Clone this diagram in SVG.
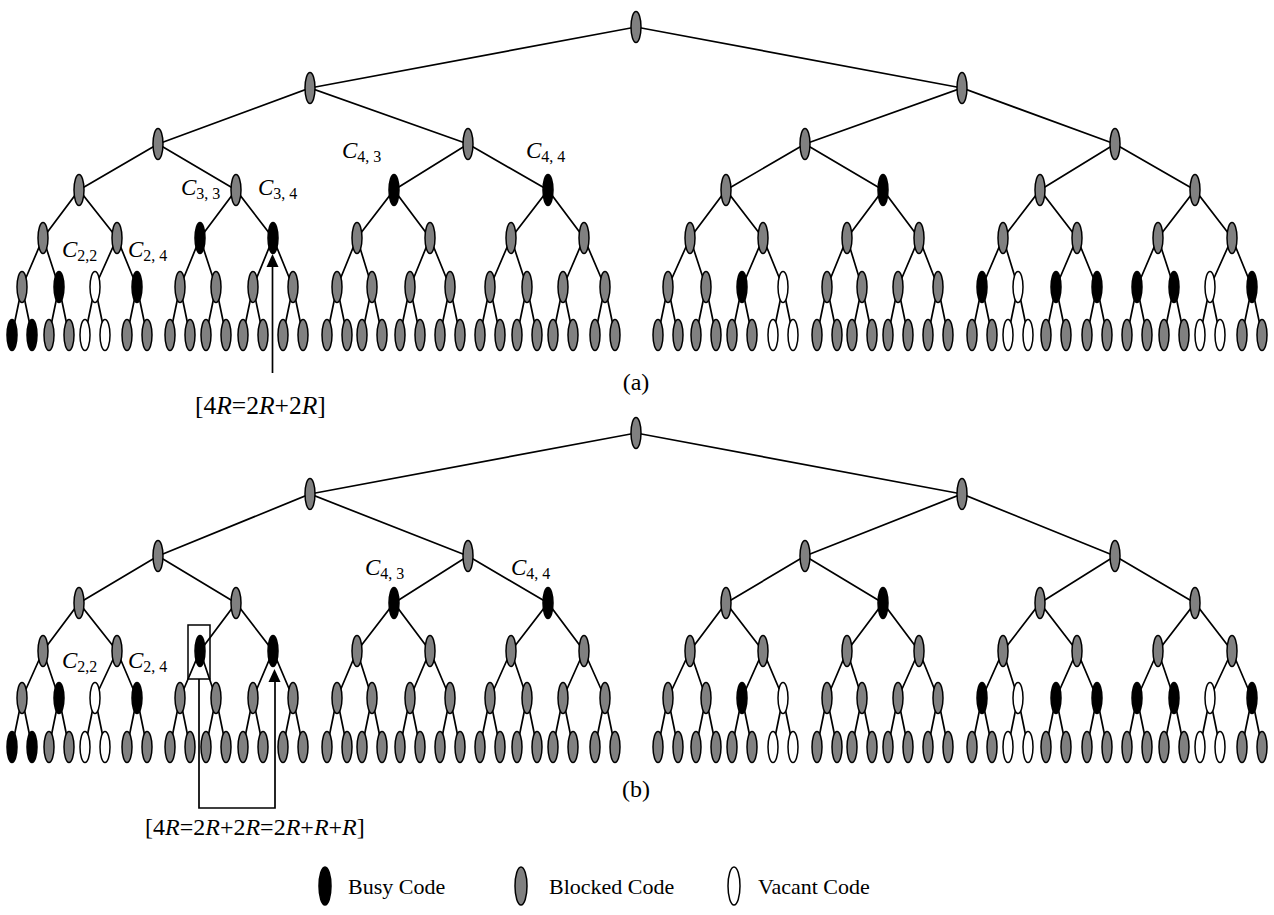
<svg xmlns="http://www.w3.org/2000/svg" xmlns:xlink="http://www.w3.org/1999/xlink" width="1274" height="915" viewBox="0 0 1274 915">
<style>
.e{fill:none;stroke:#000;stroke-width:1.7}
.nd{stroke:#000;stroke-width:1.5}
.t{font-family:"Liberation Serif","Times New Roman",serif;fill:#000}
.i{font-style:italic}
.lbl{font-size:23px}
.sub{font-size:16px}
.eq{font-size:24px}
.eqa{font-size:25.5px}
.cap{font-size:24px}
.leg{font-size:22px}
</style>
<defs>
<ellipse id="G" class="nd" cx="0" cy="0" rx="5" ry="15.5" fill="#808080"/>
<ellipse id="B" class="nd" cx="0" cy="0" rx="5" ry="15.5" fill="#000"/>
<ellipse id="W" class="nd" cx="0" cy="0" rx="5" ry="15.5" fill="#fff"/>
</defs>
<rect width="1274" height="915" fill="#fff"/>

<g id="connectors">
<path id="edges-a" class="e" d="M310 88L636 27L962 88M158 144L310 88L468 144M805 144L962 88L1115 144M79 190L158 144L236 190M394 190L468 144L548 190M726 190L805 144L883 190M1040 190L1115 144L1195 190M43 238L79 190L117 238M200 238L236 190L273 238M357 238L394 190L430 238M511 238L548 190L584 238M690 238L726 190L763 238M847 238L883 190L919 238M1003 238L1040 190L1077 238M1158 238L1195 190L1232 238M22 287L43 238L59 287M95 287L117 238L137 287M180 287L200 238L216 287M253 287L273 238L293 287M337 287L357 238L372 287M410 287L430 238L450 287M490 287L511 238L527 287M563 287L584 238L605 287M668 287L690 238L706 287M742 287L763 238L783 287M827 287L847 238L862 287M898 287L919 238L938 287M982 287L1003 238L1018 287M1056 287L1077 238L1097 287M1137 287L1158 238L1174 287M1210 287L1232 238L1252 287M12 335L22 287L32 335M49 335L59 287L69 335M85 335L95 287L105 335M127 335L137 287L147 335M170 335L180 287L190 335M206 335L216 287L226 335M243 335L253 287L263 335M283 335L293 287L303 335M327 335L337 287L347 335M362 335L372 287L382 335M400 335L410 287L420 335M440 335L450 287L460 335M480 335L490 287L500 335M517 335L527 287L537 335M553 335L563 287L573 335M595 335L605 287L615 335M658 335L668 287L678 335M696 335L706 287L716 335M732 335L742 287L752 335M773 335L783 287L793 335M817 335L827 287L837 335M852 335L862 287L872 335M888 335L898 287L908 335M928 335L938 287L948 335M972 335L982 287L992 335M1008 335L1018 287L1028 335M1046 335L1056 287L1066 335M1087 335L1097 287L1107 335M1127 335L1137 287L1147 335M1164 335L1174 287L1184 335M1200 335L1210 287L1220 335M1242 335L1252 287L1262 335"/>
<path id="edges-b" class="e" d="M310 494L636 433L962 494M158 556L310 494L468 556M805 556L962 494L1115 556M79 603L158 556L236 603M394 603L468 556L548 603M726 603L805 556L883 603M1040 603L1115 556L1195 603M43 651L79 603L117 651M200 651L236 603L273 651M357 651L394 603L430 651M511 651L548 603L584 651M690 651L726 603L763 651M847 651L883 603L919 651M1003 651L1040 603L1077 651M1158 651L1195 603L1232 651M22 698L43 651L59 698M95 698L117 651L137 698M180 698L200 651L216 698M253 698L273 651L293 698M337 698L357 651L372 698M410 698L430 651L450 698M490 698L511 651L527 698M563 698L584 651L605 698M668 698L690 651L706 698M742 698L763 651L783 698M827 698L847 651L862 698M898 698L919 651L938 698M982 698L1003 651L1018 698M1056 698L1077 651L1097 698M1137 698L1158 651L1174 698M1210 698L1232 651L1252 698M12 747L22 698L32 747M49 747L59 698L69 747M85 747L95 698L105 747M127 747L137 698L147 747M170 747L180 698L190 747M206 747L216 698L226 747M243 747L253 698L263 747M283 747L293 698L303 747M327 747L337 698L347 747M362 747L372 698L382 747M400 747L410 698L420 747M440 747L450 698L460 747M480 747L490 698L500 747M517 747L527 698L537 747M553 747L563 698L573 747M595 747L605 698L615 747M658 747L668 698L678 747M696 747L706 698L716 747M732 747L742 698L752 747M773 747L783 698L793 747M817 747L827 698L837 747M852 747L862 698L872 747M888 747L898 698L908 747M928 747L938 698L948 747M972 747L982 698L992 747M1008 747L1018 698L1028 747M1046 747L1056 698L1066 747M1087 747L1097 698L1107 747M1127 747L1137 698L1147 747M1164 747L1174 698L1184 747M1200 747L1210 698L1220 747M1242 747L1252 698L1262 747"/>
</g>

<g id="tree-a">
<g id="a0"><use href="#G" x="636" y="27"/></g>
<g id="a1"><use href="#G" x="310" y="88"/></g>
<g id="a2"><use href="#G" x="962" y="88"/></g>
<g id="a3"><use href="#G" x="158" y="144"/></g>
<g id="a4"><use href="#G" x="468" y="144"/></g>
<g id="a5"><use href="#G" x="805" y="144"/></g>
<g id="a6"><use href="#G" x="1115" y="144"/></g>
<g id="a7"><use href="#G" x="79" y="190"/></g>
<g id="a8"><use href="#G" x="236" y="190"/></g>
<g id="a9"><use href="#B" x="394" y="190"/></g>
<g id="a10"><use href="#B" x="548" y="190"/></g>
<g id="a11"><use href="#G" x="726" y="190"/></g>
<g id="a12"><use href="#B" x="883" y="190"/></g>
<g id="a13"><use href="#G" x="1040" y="190"/></g>
<g id="a14"><use href="#G" x="1195" y="190"/></g>
<g id="a15"><use href="#G" x="43" y="238"/></g>
<g id="a16"><use href="#G" x="117" y="238"/></g>
<g id="a17"><use href="#B" x="200" y="238"/></g>
<g id="a18"><use href="#B" x="273" y="238"/></g>
<g id="a19"><use href="#G" x="357" y="238"/></g>
<g id="a20"><use href="#G" x="430" y="238"/></g>
<g id="a21"><use href="#G" x="511" y="238"/></g>
<g id="a22"><use href="#G" x="584" y="238"/></g>
<g id="a23"><use href="#G" x="690" y="238"/></g>
<g id="a24"><use href="#G" x="763" y="238"/></g>
<g id="a25"><use href="#G" x="847" y="238"/></g>
<g id="a26"><use href="#G" x="919" y="238"/></g>
<g id="a27"><use href="#G" x="1003" y="238"/></g>
<g id="a28"><use href="#G" x="1077" y="238"/></g>
<g id="a29"><use href="#G" x="1158" y="238"/></g>
<g id="a30"><use href="#G" x="1232" y="238"/></g>
<g id="a31"><use href="#G" x="22" y="287"/></g>
<g id="a32"><use href="#B" x="59" y="287"/></g>
<g id="a33"><use href="#W" x="95" y="287"/></g>
<g id="a34"><use href="#B" x="137" y="287"/></g>
<g id="a35"><use href="#G" x="180" y="287"/></g>
<g id="a36"><use href="#G" x="216" y="287"/></g>
<g id="a37"><use href="#G" x="253" y="287"/></g>
<g id="a38"><use href="#G" x="293" y="287"/></g>
<g id="a39"><use href="#G" x="337" y="287"/></g>
<g id="a40"><use href="#G" x="372" y="287"/></g>
<g id="a41"><use href="#G" x="410" y="287"/></g>
<g id="a42"><use href="#G" x="450" y="287"/></g>
<g id="a43"><use href="#G" x="490" y="287"/></g>
<g id="a44"><use href="#G" x="527" y="287"/></g>
<g id="a45"><use href="#G" x="563" y="287"/></g>
<g id="a46"><use href="#G" x="605" y="287"/></g>
<g id="a47"><use href="#G" x="668" y="287"/></g>
<g id="a48"><use href="#G" x="706" y="287"/></g>
<g id="a49"><use href="#B" x="742" y="287"/></g>
<g id="a50"><use href="#W" x="783" y="287"/></g>
<g id="a51"><use href="#G" x="827" y="287"/></g>
<g id="a52"><use href="#G" x="862" y="287"/></g>
<g id="a53"><use href="#G" x="898" y="287"/></g>
<g id="a54"><use href="#G" x="938" y="287"/></g>
<g id="a55"><use href="#B" x="982" y="287"/></g>
<g id="a56"><use href="#W" x="1018" y="287"/></g>
<g id="a57"><use href="#B" x="1056" y="287"/></g>
<g id="a58"><use href="#B" x="1097" y="287"/></g>
<g id="a59"><use href="#B" x="1137" y="287"/></g>
<g id="a60"><use href="#B" x="1174" y="287"/></g>
<g id="a61"><use href="#W" x="1210" y="287"/></g>
<g id="a62"><use href="#B" x="1252" y="287"/></g>
<g id="a63"><use href="#B" x="12" y="335"/></g>
<g id="a64"><use href="#B" x="32" y="335"/></g>
<g id="a65"><use href="#G" x="49" y="335"/></g>
<g id="a66"><use href="#G" x="69" y="335"/></g>
<g id="a67"><use href="#W" x="85" y="335"/></g>
<g id="a68"><use href="#W" x="105" y="335"/></g>
<g id="a69"><use href="#G" x="127" y="335"/></g>
<g id="a70"><use href="#G" x="147" y="335"/></g>
<g id="a71"><use href="#G" x="170" y="335"/></g>
<g id="a72"><use href="#G" x="190" y="335"/></g>
<g id="a73"><use href="#G" x="206" y="335"/></g>
<g id="a74"><use href="#G" x="226" y="335"/></g>
<g id="a75"><use href="#G" x="243" y="335"/></g>
<g id="a76"><use href="#G" x="263" y="335"/></g>
<g id="a77"><use href="#G" x="283" y="335"/></g>
<g id="a78"><use href="#G" x="303" y="335"/></g>
<g id="a79"><use href="#G" x="327" y="335"/></g>
<g id="a80"><use href="#G" x="347" y="335"/></g>
<g id="a81"><use href="#G" x="362" y="335"/></g>
<g id="a82"><use href="#G" x="382" y="335"/></g>
<g id="a83"><use href="#G" x="400" y="335"/></g>
<g id="a84"><use href="#G" x="420" y="335"/></g>
<g id="a85"><use href="#G" x="440" y="335"/></g>
<g id="a86"><use href="#G" x="460" y="335"/></g>
<g id="a87"><use href="#G" x="480" y="335"/></g>
<g id="a88"><use href="#G" x="500" y="335"/></g>
<g id="a89"><use href="#G" x="517" y="335"/></g>
<g id="a90"><use href="#G" x="537" y="335"/></g>
<g id="a91"><use href="#G" x="553" y="335"/></g>
<g id="a92"><use href="#G" x="573" y="335"/></g>
<g id="a93"><use href="#G" x="595" y="335"/></g>
<g id="a94"><use href="#G" x="615" y="335"/></g>
<g id="a95"><use href="#G" x="658" y="335"/></g>
<g id="a96"><use href="#G" x="678" y="335"/></g>
<g id="a97"><use href="#G" x="696" y="335"/></g>
<g id="a98"><use href="#G" x="716" y="335"/></g>
<g id="a99"><use href="#G" x="732" y="335"/></g>
<g id="a100"><use href="#G" x="752" y="335"/></g>
<g id="a101"><use href="#W" x="773" y="335"/></g>
<g id="a102"><use href="#W" x="793" y="335"/></g>
<g id="a103"><use href="#G" x="817" y="335"/></g>
<g id="a104"><use href="#G" x="837" y="335"/></g>
<g id="a105"><use href="#G" x="852" y="335"/></g>
<g id="a106"><use href="#G" x="872" y="335"/></g>
<g id="a107"><use href="#G" x="888" y="335"/></g>
<g id="a108"><use href="#G" x="908" y="335"/></g>
<g id="a109"><use href="#G" x="928" y="335"/></g>
<g id="a110"><use href="#G" x="948" y="335"/></g>
<g id="a111"><use href="#G" x="972" y="335"/></g>
<g id="a112"><use href="#G" x="992" y="335"/></g>
<g id="a113"><use href="#W" x="1008" y="335"/></g>
<g id="a114"><use href="#W" x="1028" y="335"/></g>
<g id="a115"><use href="#G" x="1046" y="335"/></g>
<g id="a116"><use href="#G" x="1066" y="335"/></g>
<g id="a117"><use href="#G" x="1087" y="335"/></g>
<g id="a118"><use href="#G" x="1107" y="335"/></g>
<g id="a119"><use href="#G" x="1127" y="335"/></g>
<g id="a120"><use href="#G" x="1147" y="335"/></g>
<g id="a121"><use href="#G" x="1164" y="335"/></g>
<g id="a122"><use href="#G" x="1184" y="335"/></g>
<g id="a123"><use href="#W" x="1200" y="335"/></g>
<g id="a124"><use href="#W" x="1220" y="335"/></g>
<g id="a125"><use href="#G" x="1242" y="335"/></g>
<g id="a126"><use href="#G" x="1262" y="335"/></g>
</g>

<g id="tree-b">
<g id="b0"><use href="#G" x="636" y="433"/></g>
<g id="b1"><use href="#G" x="310" y="494"/></g>
<g id="b2"><use href="#G" x="962" y="494"/></g>
<g id="b3"><use href="#G" x="158" y="556"/></g>
<g id="b4"><use href="#G" x="468" y="556"/></g>
<g id="b5"><use href="#G" x="805" y="556"/></g>
<g id="b6"><use href="#G" x="1115" y="556"/></g>
<g id="b7"><use href="#G" x="79" y="603"/></g>
<g id="b8"><use href="#G" x="236" y="603"/></g>
<g id="b9"><use href="#B" x="394" y="603"/></g>
<g id="b10"><use href="#B" x="548" y="603"/></g>
<g id="b11"><use href="#G" x="726" y="603"/></g>
<g id="b12"><use href="#B" x="883" y="603"/></g>
<g id="b13"><use href="#G" x="1040" y="603"/></g>
<g id="b14"><use href="#G" x="1195" y="603"/></g>
<g id="b15"><use href="#G" x="43" y="651"/></g>
<g id="b16"><use href="#G" x="117" y="651"/></g>
<g id="b17"><use href="#B" x="200" y="651"/></g>
<g id="b18"><use href="#B" x="273" y="651"/></g>
<g id="b19"><use href="#G" x="357" y="651"/></g>
<g id="b20"><use href="#G" x="430" y="651"/></g>
<g id="b21"><use href="#G" x="511" y="651"/></g>
<g id="b22"><use href="#G" x="584" y="651"/></g>
<g id="b23"><use href="#G" x="690" y="651"/></g>
<g id="b24"><use href="#G" x="763" y="651"/></g>
<g id="b25"><use href="#G" x="847" y="651"/></g>
<g id="b26"><use href="#G" x="919" y="651"/></g>
<g id="b27"><use href="#G" x="1003" y="651"/></g>
<g id="b28"><use href="#G" x="1077" y="651"/></g>
<g id="b29"><use href="#G" x="1158" y="651"/></g>
<g id="b30"><use href="#G" x="1232" y="651"/></g>
<g id="b31"><use href="#G" x="22" y="698"/></g>
<g id="b32"><use href="#B" x="59" y="698"/></g>
<g id="b33"><use href="#W" x="95" y="698"/></g>
<g id="b34"><use href="#B" x="137" y="698"/></g>
<g id="b35"><use href="#G" x="180" y="698"/></g>
<g id="b36"><use href="#G" x="216" y="698"/></g>
<g id="b37"><use href="#G" x="253" y="698"/></g>
<g id="b38"><use href="#G" x="293" y="698"/></g>
<g id="b39"><use href="#G" x="337" y="698"/></g>
<g id="b40"><use href="#G" x="372" y="698"/></g>
<g id="b41"><use href="#G" x="410" y="698"/></g>
<g id="b42"><use href="#G" x="450" y="698"/></g>
<g id="b43"><use href="#G" x="490" y="698"/></g>
<g id="b44"><use href="#G" x="527" y="698"/></g>
<g id="b45"><use href="#G" x="563" y="698"/></g>
<g id="b46"><use href="#G" x="605" y="698"/></g>
<g id="b47"><use href="#G" x="668" y="698"/></g>
<g id="b48"><use href="#G" x="706" y="698"/></g>
<g id="b49"><use href="#B" x="742" y="698"/></g>
<g id="b50"><use href="#W" x="783" y="698"/></g>
<g id="b51"><use href="#G" x="827" y="698"/></g>
<g id="b52"><use href="#G" x="862" y="698"/></g>
<g id="b53"><use href="#G" x="898" y="698"/></g>
<g id="b54"><use href="#G" x="938" y="698"/></g>
<g id="b55"><use href="#B" x="982" y="698"/></g>
<g id="b56"><use href="#W" x="1018" y="698"/></g>
<g id="b57"><use href="#B" x="1056" y="698"/></g>
<g id="b58"><use href="#B" x="1097" y="698"/></g>
<g id="b59"><use href="#B" x="1137" y="698"/></g>
<g id="b60"><use href="#B" x="1174" y="698"/></g>
<g id="b61"><use href="#W" x="1210" y="698"/></g>
<g id="b62"><use href="#B" x="1252" y="698"/></g>
<g id="b63"><use href="#B" x="12" y="747"/></g>
<g id="b64"><use href="#B" x="32" y="747"/></g>
<g id="b65"><use href="#G" x="49" y="747"/></g>
<g id="b66"><use href="#G" x="69" y="747"/></g>
<g id="b67"><use href="#W" x="85" y="747"/></g>
<g id="b68"><use href="#W" x="105" y="747"/></g>
<g id="b69"><use href="#G" x="127" y="747"/></g>
<g id="b70"><use href="#G" x="147" y="747"/></g>
<g id="b71"><use href="#G" x="170" y="747"/></g>
<g id="b72"><use href="#G" x="190" y="747"/></g>
<g id="b73"><use href="#G" x="206" y="747"/></g>
<g id="b74"><use href="#G" x="226" y="747"/></g>
<g id="b75"><use href="#G" x="243" y="747"/></g>
<g id="b76"><use href="#G" x="263" y="747"/></g>
<g id="b77"><use href="#G" x="283" y="747"/></g>
<g id="b78"><use href="#G" x="303" y="747"/></g>
<g id="b79"><use href="#G" x="327" y="747"/></g>
<g id="b80"><use href="#G" x="347" y="747"/></g>
<g id="b81"><use href="#G" x="362" y="747"/></g>
<g id="b82"><use href="#G" x="382" y="747"/></g>
<g id="b83"><use href="#G" x="400" y="747"/></g>
<g id="b84"><use href="#G" x="420" y="747"/></g>
<g id="b85"><use href="#G" x="440" y="747"/></g>
<g id="b86"><use href="#G" x="460" y="747"/></g>
<g id="b87"><use href="#G" x="480" y="747"/></g>
<g id="b88"><use href="#G" x="500" y="747"/></g>
<g id="b89"><use href="#G" x="517" y="747"/></g>
<g id="b90"><use href="#G" x="537" y="747"/></g>
<g id="b91"><use href="#G" x="553" y="747"/></g>
<g id="b92"><use href="#G" x="573" y="747"/></g>
<g id="b93"><use href="#G" x="595" y="747"/></g>
<g id="b94"><use href="#G" x="615" y="747"/></g>
<g id="b95"><use href="#G" x="658" y="747"/></g>
<g id="b96"><use href="#G" x="678" y="747"/></g>
<g id="b97"><use href="#G" x="696" y="747"/></g>
<g id="b98"><use href="#G" x="716" y="747"/></g>
<g id="b99"><use href="#G" x="732" y="747"/></g>
<g id="b100"><use href="#G" x="752" y="747"/></g>
<g id="b101"><use href="#W" x="773" y="747"/></g>
<g id="b102"><use href="#W" x="793" y="747"/></g>
<g id="b103"><use href="#G" x="817" y="747"/></g>
<g id="b104"><use href="#G" x="837" y="747"/></g>
<g id="b105"><use href="#G" x="852" y="747"/></g>
<g id="b106"><use href="#G" x="872" y="747"/></g>
<g id="b107"><use href="#G" x="888" y="747"/></g>
<g id="b108"><use href="#G" x="908" y="747"/></g>
<g id="b109"><use href="#G" x="928" y="747"/></g>
<g id="b110"><use href="#G" x="948" y="747"/></g>
<g id="b111"><use href="#G" x="972" y="747"/></g>
<g id="b112"><use href="#G" x="992" y="747"/></g>
<g id="b113"><use href="#W" x="1008" y="747"/></g>
<g id="b114"><use href="#W" x="1028" y="747"/></g>
<g id="b115"><use href="#G" x="1046" y="747"/></g>
<g id="b116"><use href="#G" x="1066" y="747"/></g>
<g id="b117"><use href="#G" x="1087" y="747"/></g>
<g id="b118"><use href="#G" x="1107" y="747"/></g>
<g id="b119"><use href="#G" x="1127" y="747"/></g>
<g id="b120"><use href="#G" x="1147" y="747"/></g>
<g id="b121"><use href="#G" x="1164" y="747"/></g>
<g id="b122"><use href="#G" x="1184" y="747"/></g>
<g id="b123"><use href="#W" x="1200" y="747"/></g>
<g id="b124"><use href="#W" x="1220" y="747"/></g>
<g id="b125"><use href="#G" x="1242" y="747"/></g>
<g id="b126"><use href="#G" x="1262" y="747"/></g>
</g>

<g id="labels-a" class="t">
<text class="lbl" x="181" y="195"><tspan class="i">C</tspan><tspan class="sub" dy="4">3, 3</tspan></text>
<text class="lbl" x="258" y="195"><tspan class="i">C</tspan><tspan class="sub" dy="4">3, 4</tspan></text>
<text class="lbl" x="62" y="257"><tspan class="i">C</tspan><tspan class="sub" dy="4">2,2</tspan></text>
<text class="lbl" x="128" y="257"><tspan class="i">C</tspan><tspan class="sub" dy="4">2, 4</tspan></text>
<text class="lbl" x="342" y="158"><tspan class="i">C</tspan><tspan class="sub" dy="4">4, 3</tspan></text>
<text class="lbl" x="526" y="158"><tspan class="i">C</tspan><tspan class="sub" dy="4">4, 4</tspan></text>
</g>
<g id="annot-a">
<line class="e" x1="272.5" y1="266" x2="272.5" y2="373"/>
<polygon points="272.5,254 266.5,267 278.5,267" fill="#000"/>
<text class="t eqa" x="195" y="414">[4<tspan class="i">R</tspan>=2<tspan class="i">R</tspan>+2<tspan class="i">R</tspan>]</text>
<text class="t cap" x="636" y="390" text-anchor="middle">(a)</text>
</g>

<g id="labels-b" class="t">
<text class="lbl" x="62" y="668"><tspan class="i">C</tspan><tspan class="sub" dy="4">2,2</tspan></text>
<text class="lbl" x="128" y="668"><tspan class="i">C</tspan><tspan class="sub" dy="4">2, 4</tspan></text>
<text class="lbl" x="365" y="575"><tspan class="i">C</tspan><tspan class="sub" dy="4">4, 3</tspan></text>
<text class="lbl" x="511" y="575"><tspan class="i">C</tspan><tspan class="sub" dy="4">4, 4</tspan></text>
</g>
<g id="annot-b">
<rect x="188" y="625" width="22" height="54" fill="none" stroke="#000" stroke-width="1.5"/>
<path class="e" d="M199 679V808H275V681"/>
<polygon points="274.5,669 268.5,682 280.5,682" fill="#000"/>
<text class="t eq" x="145" y="835">[4<tspan class="i">R</tspan>=2<tspan class="i">R</tspan>+2<tspan class="i">R</tspan>=2<tspan class="i">R</tspan>+<tspan class="i">R</tspan>+<tspan class="i">R</tspan>]</text>
<text class="t cap" x="636" y="797" text-anchor="middle">(b)</text>
</g>

<g id="legend">
<g id="leg-busy"><ellipse class="nd" cx="325" cy="886" rx="6" ry="19" fill="#000"/><text class="t leg" x="348" y="894">Busy Code</text></g>
<g id="leg-blocked"><ellipse class="nd" cx="521" cy="886" rx="6" ry="19" fill="#808080"/><text class="t leg" x="549" y="894">Blocked Code</text></g>
<g id="leg-vacant"><ellipse class="nd" cx="734" cy="886" rx="6" ry="19" fill="#fff"/><text class="t leg" x="758" y="894">Vacant Code</text></g>
</g>
</svg>
